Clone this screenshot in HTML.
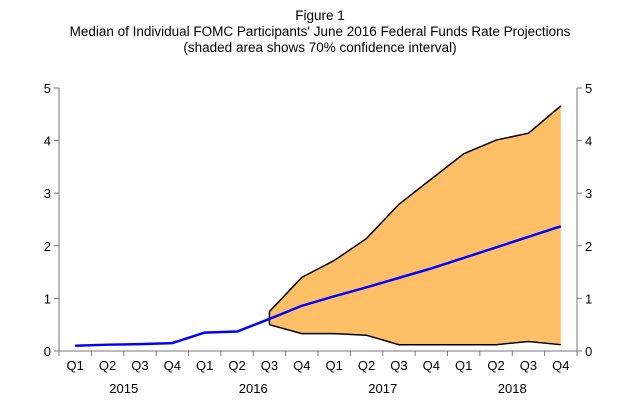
<!DOCTYPE html>
<html><head><meta charset="utf-8"><style>
body{margin:0;background:#fff;font-family:"Liberation Sans",Arial,sans-serif}
svg{display:block}
</style></head><body>
<svg width="640" height="400" font-family="Liberation Sans, Arial, sans-serif">
<g id="title" font-size="13.5" text-anchor="middle" fill="#000">
<text x="320" y="20">Figure 1</text>
<text x="320" y="36">Median of Individual FOMC Participants' June 2016 Federal Funds Rate Projections</text>
<text x="320" y="52">(shaded area shows 70% confidence interval)</text>
</g>
<g id="band"></g>
<g id="axes"></g>
<g id="lines"></g>
</svg>
<script>
const quarters=["Q1","Q2","Q3","Q4","Q1","Q2","Q3","Q4","Q1","Q2","Q3","Q4","Q1","Q2","Q3","Q4"];
const years=["2015","2016","2017","2018"];
const median=[0.1,0.12,0.13,0.15,0.35,0.37,0.61,0.86,1.04,1.21,1.39,1.57,1.77,1.97,2.17,2.37];
const bandStart=6;
const upper=[0.75,1.4,1.72,2.14,2.79,3.27,3.75,4.01,4.14,4.66];
const lower=[0.5,0.33,0.33,0.3,0.12,0.12,0.12,0.12,0.18,0.12];
const yTicks=[0,1,2,3,4,5];
const NS="http://www.w3.org/2000/svg";
const L=59,R=577,T=88,B=351;
const step=(R-L)/quarters.length;
const x=i=>L+step*(i+0.5);
const y=v=>B-(B-T)*v/5;
function mk(tag,attrs,parent,text){const e=document.createElementNS(NS,tag);for(const k in attrs)e.setAttribute(k,attrs[k]);if(text!==undefined)e.textContent=text;parent.appendChild(e);return e;}
const band=document.getElementById('band'),axes=document.getElementById('axes'),lines=document.getElementById('lines');
let pts=upper.map((v,i)=>x(i+bandStart)+","+y(v));
for(let i=lower.length-1;i>=0;i--)pts.push(x(i+bandStart)+","+y(lower[i]));
const poly=mk('polygon',{points:pts.join(" "),fill:"#FFBF66",stroke:"none"},band);


const up=mk('polyline',{points:upper.map((v,i)=>x(i+bandStart)+","+y(v)).join(" "),fill:"none",stroke:"#000","stroke-width":1.5},lines);


const lo=mk('polyline',{points:lower.map((v,i)=>x(i+bandStart)+","+y(v)).join(" "),fill:"none",stroke:"#000","stroke-width":1.5},lines);


const lft=mk('line',{x1:x(bandStart),y1:y(upper[0]),x2:x(bandStart),y2:y(lower[0]),stroke:"#000","stroke-width":1.5},lines);


const med=mk('polyline',{points:median.map((v,i)=>x(i)+","+y(v)).join(" "),fill:"none",stroke:"#0000FF","stroke-width":2.5,"stroke-linejoin":"round"},lines);


mk('line',{x1:L,y1:T,x2:L,y2:B,stroke:"#777"},axes);
mk('line',{x1:R,y1:T,x2:R,y2:B,stroke:"#777"},axes);
mk('line',{x1:L-5,y1:B,x2:R+5,y2:B,stroke:"#777"},axes);
yTicks.forEach(v=>{
  mk('line',{x1:L-5,y1:y(v),x2:L,y2:y(v),stroke:"#777"},axes);
  mk('line',{x1:R,y1:y(v),x2:R+5,y2:y(v),stroke:"#777"},axes);
  const a=mk('text',{x:L-8,y:y(v)+5,"font-size":13,"text-anchor":"end"},axes,v);
  
  
  const b=mk('text',{x:R+8,y:y(v)+5,"font-size":13},axes,v);
  
  
});
for(let i=0;i<=quarters.length;i++){
  const xx=L+step*i;
  mk('line',{x1:xx,y1:B,x2:xx,y2:B+5,stroke:"#777"},axes);
}
quarters.forEach((q,i)=>{
  const t=mk('text',{x:x(i),y:B+19,"font-size":13,"text-anchor":"middle"},axes,q);
  
  
});
years.forEach((yr,i)=>{
  const t=mk('text',{x:L+step*(i*4+2),y:B+42,"font-size":13,"text-anchor":"middle"},axes,yr);
  
  
});
</script>
</body></html>
